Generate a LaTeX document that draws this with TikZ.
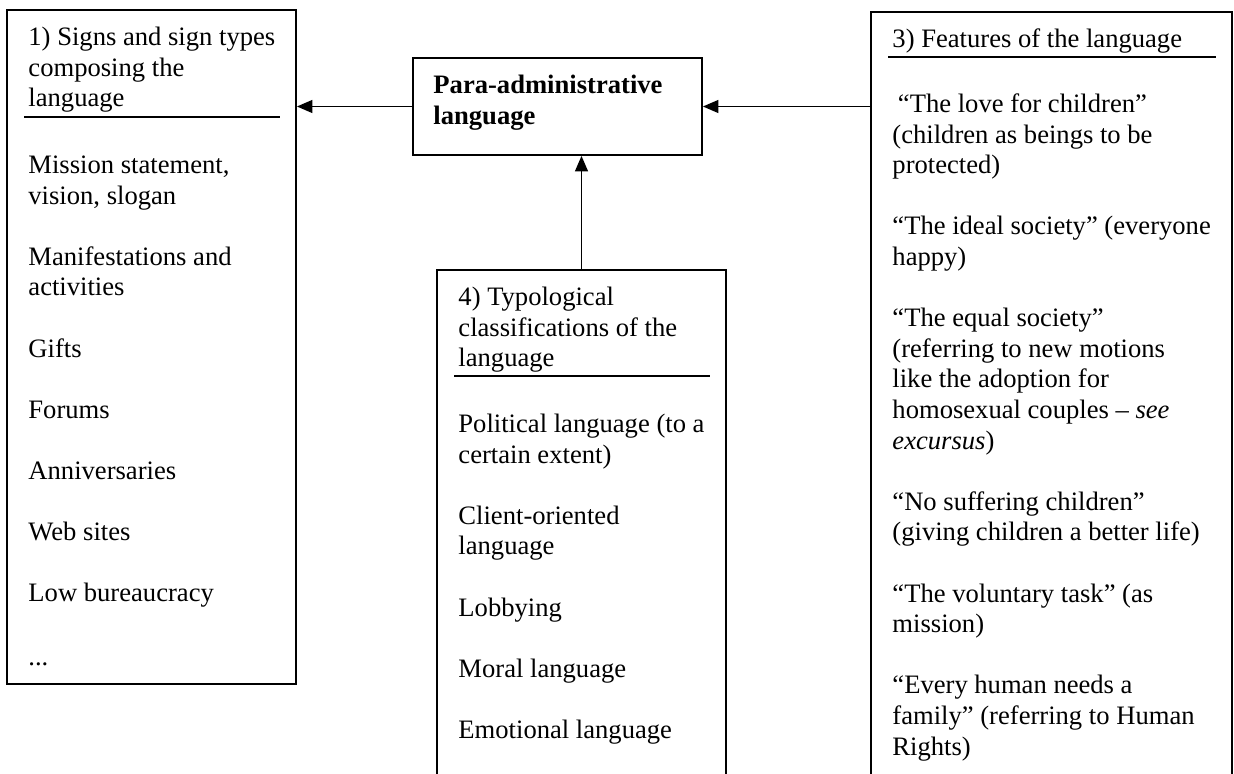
\documentclass[tikz,border=0pt]{standalone}
\usepackage{fontspec}
\setmainfont{Liberation Serif}
\usetikzlibrary{arrows.meta, positioning, fit}

\begin{document}
\begin{tikzpicture}[
  x=0.451pt, y=-0.451pt,
  font=\fontsize{12pt}{13.8pt}\selectfont,
  panel/.style={draw, line width=0.8pt, inner sep=0pt},
  txt/.style={anchor=north west, inner sep=0pt, align=left, yshift=9.66pt},
  headrule/.style={line width=0.6pt},
  arrow/.style={-{Triangle[length=7pt, width=5.8pt]}, line width=0.8pt}
]
\useasboundingbox (0,0) rectangle (1234,774);
\clip (0,0) rectangle (1234,774);

% ---------------- Centre ----------------
\node[panel, fit={(413,58)(702,155)}] (lang) {};
\node[txt, font=\fontsize{12pt}{13.8pt}\selectfont\bfseries] (langtext) at (433,93)
  {\strut Para-administrative\\language};

% ---------------- 1) Signs ----------------
\node[panel, fit={(7,10)(296,684)}] (signs) {};
\node[txt] (signshead) at (28,45) {\strut 1) Signs and sign types\\composing the\\language};
\draw[headrule] (24,117) -- (280,117);
\node[txt] (signslist) at (28,173)
  {\strut Mission statement,\\vision, slogan\\[13.8pt]
   Manifestations and\\activities\\[13.8pt]
   Gifts\\[13.8pt]
   Forums\\[13.8pt]
   Anniversaries\\[13.8pt]
   Web sites\\[13.8pt]
   Low bureaucracy\\[14.8pt]
   ...};

% ---------------- 4) Typological classifications ----------------
\node[panel, fit={(437,270)(726,800)}] (types) {};
\node[txt] (typeshead) at (458,305) {\strut 4) Typological\\classifications of the\\language};
\draw[headrule] (454,376) -- (710,376);
\node[txt] (typeslist) at (458,432)
  {\strut Political language (to a\\certain extent)\\[13.8pt]
   Client-oriented\\language\\[13.8pt]
   Lobbying\\[13.8pt]
   Moral language\\[13.8pt]
   Emotional language};

% ---------------- 3) Features ----------------
\node[panel, fit={(871,12)(1232,800)}] (features) {};
\node[txt] (featureshead) at (892,47) {\strut 3) Features of the language};
\draw[headrule] (888,57) -- (1216,57);
\node[txt] (featureslist) at (892,112)
  {\strut\hspace*{2.5pt}“The love for children”\\(children as beings to be\\protected)\\[13.8pt]
   “The ideal society” (everyone\\happy)\\[13.8pt]
   “The equal society”\\(referring to new motions\\like the adoption for\\homosexual couples – \textit{see}\\\textit{excursus})\\[13.8pt]
   “No suffering children”\\(giving children a better life)\\[13.8pt]
   “The voluntary task” (as\\mission)\\[13.8pt]
   “Every human needs a\\family” (referring to Human\\Rights)};

% ---------------- Arrows ----------------
\draw[arrow] (lang.west) -- (lang.west -| signs.east);
\draw[arrow] (lang.east -| features.west) -- (lang.east);
\draw[arrow] (types.north) -- (types.north |- lang.south);

\end{tikzpicture}
\end{document}
